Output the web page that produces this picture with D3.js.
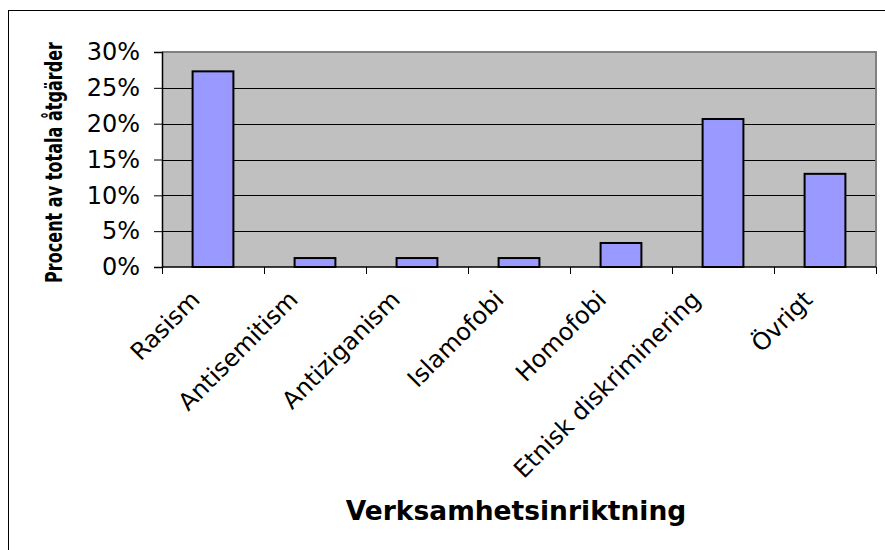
<!DOCTYPE html>
<html>
<head>
<meta charset="utf-8">
<script src="https://cdn.jsdelivr.net/npm/d3@7"></script>
<style>
  body { margin: 0; background: #fff; }
  svg { display: block; }
</style>
</head>
<body>
<div id="chart"></div>
<script>
'use strict';

// data
const categories = ['Rasism', 'Antisemitism', 'Antiziganism', 'Islamofobi',
    'Homofobi', 'Etnisk diskriminering', 'Övrigt'];
const shares = [27.3, 1.25, 1.25, 1.25, 3.35, 20.65, 13.0];
const yTicks = [0, 5, 10, 15, 20, 25, 30];
const yTitle = 'Procent av totala åtgärder';
const xTitle = 'Verksamhetsinriktning';

const W = 885, H = 550;
const plot = {left: 162, right: 876, top: 52, bottom: 267};

const svg = d3.select('#chart').append('svg')
    .attr('width', W)
    .attr('height', H);

// outer chart border
svg.append('rect')
    .attr('x', 8.5).attr('y', 10.5)
    .attr('width', 900).attr('height', 600)
    .attr('fill', '#fff')
    .attr('stroke', '#000');

const x = d3.scaleBand()
    .domain(categories)
    .range([plot.left, plot.right])
    .paddingInner(0.6)
    .paddingOuter(0.3);

const y = d3.scaleLinear()
    .domain([0, 30])
    .range([plot.bottom, plot.top]);

// plot area
svg.append('rect')
    .attr('x', plot.left).attr('y', plot.top)
    .attr('width', plot.right - plot.left)
    .attr('height', plot.bottom - plot.top)
    .attr('fill', '#c0c0c0');

// grid
svg.append('g')
    .selectAll('line')
    .data(yTicks.filter(d => d > 0 && d < 30))
    .join('line')
        .attr('x1', plot.left).attr('x2', plot.right)
        .attr('y1', d => Math.round(y(d)) + 0.5)
        .attr('y2', d => Math.round(y(d)) + 0.5)
        .attr('stroke', '#000');

// top / right frame
svg.append('path')
    .attr('d', `M${plot.left},${plot.top} H${plot.right} V${plot.bottom}`)
    .attr('fill', 'none')
    .attr('stroke', '#808080')
    .attr('stroke-width', 2);

// bars
svg.append('g')
    .selectAll('rect')
    .data(categories)
    .join('rect')
        .attr('x', d => x(d))
        .attr('y', (d, i) => y(shares[i]))
        .attr('width', x.bandwidth())
        .attr('height', (d, i) => y(0) - y(shares[i]))
        .attr('fill', '#9999ff')
        .attr('stroke', '#000')
        .attr('stroke-width', 2);

// y axis
const yAxis = svg.append('g')
    .attr('transform', `translate(${plot.left}, 0)`)
    .call(d3.axisLeft(y)
        .tickValues(yTicks)
        .tickFormat(d => d + '%')
        .tickSize(8)
        .tickPadding(14));
yAxis.select('.domain').attr('stroke', '#000').attr('stroke-width', 1.5);
yAxis.selectAll('.tick line').attr('stroke', '#000');
yAxis.selectAll('text')
    .attr('font-family', '"DejaVu Sans", Verdana, sans-serif')
    .attr('font-size', 24)
    .attr('fill', '#000');

// x axis: ticks at category boundaries
const step = x.step();
const bounds = d3.range(categories.length + 1)
    .map(i => plot.left + i * step);
svg.append('line')
    .attr('x1', plot.left).attr('x2', plot.right)
    .attr('y1', plot.bottom).attr('y2', plot.bottom)
    .attr('stroke', '#000').attr('stroke-width', 1.5);
svg.append('g')
    .selectAll('line')
    .data(bounds)
    .join('line')
        .attr('x1', d => Math.round(d) + 0.5)
        .attr('x2', d => Math.round(d) + 0.5)
        .attr('y1', plot.bottom)
        .attr('y2', plot.bottom + 7)
        .attr('stroke', '#000');

// category labels, rotated; longer labels sit a little further left
svg.append('g')
    .selectAll('text')
    .data(categories)
    .join('text')
        .attr('text-anchor', 'end')
        .attr('font-family', '"DejaVu Sans", Verdana, sans-serif')
        .attr('font-size', 24)
        .text(d => d)
        .attr('transform', function (d) {
            const len = this.getComputedTextLength();
            const cx = x(d) + x.bandwidth() / 2 - 7 - 0.055 * len;
            return `translate(${cx}, ${plot.bottom + 34}) rotate(-45)`;
        });

// axis titles (y title is squeezed along its length like the original)
const yT = svg.append('text')
    .attr('text-anchor', 'middle')
    .attr('font-family', '"DejaVu Sans", Verdana, sans-serif')
    .attr('font-weight', 'bold')
    .attr('font-size', 23)
    .text(yTitle);
const squeeze = 241 / yT.node().getComputedTextLength();
yT.attr('transform', `translate(62, ${(42 + 283) / 2}) rotate(-90) scale(${squeeze}, 1)`);

svg.append('text')
    .attr('x', (plot.left + plot.right) / 2 - 3)
    .attr('y', 520)
    .attr('text-anchor', 'middle')
    .attr('font-family', '"DejaVu Sans", Verdana, sans-serif')
    .attr('font-weight', 'bold')
    .attr('font-size', 26.5)
    .text(xTitle);
</script>
</body>
</html>
